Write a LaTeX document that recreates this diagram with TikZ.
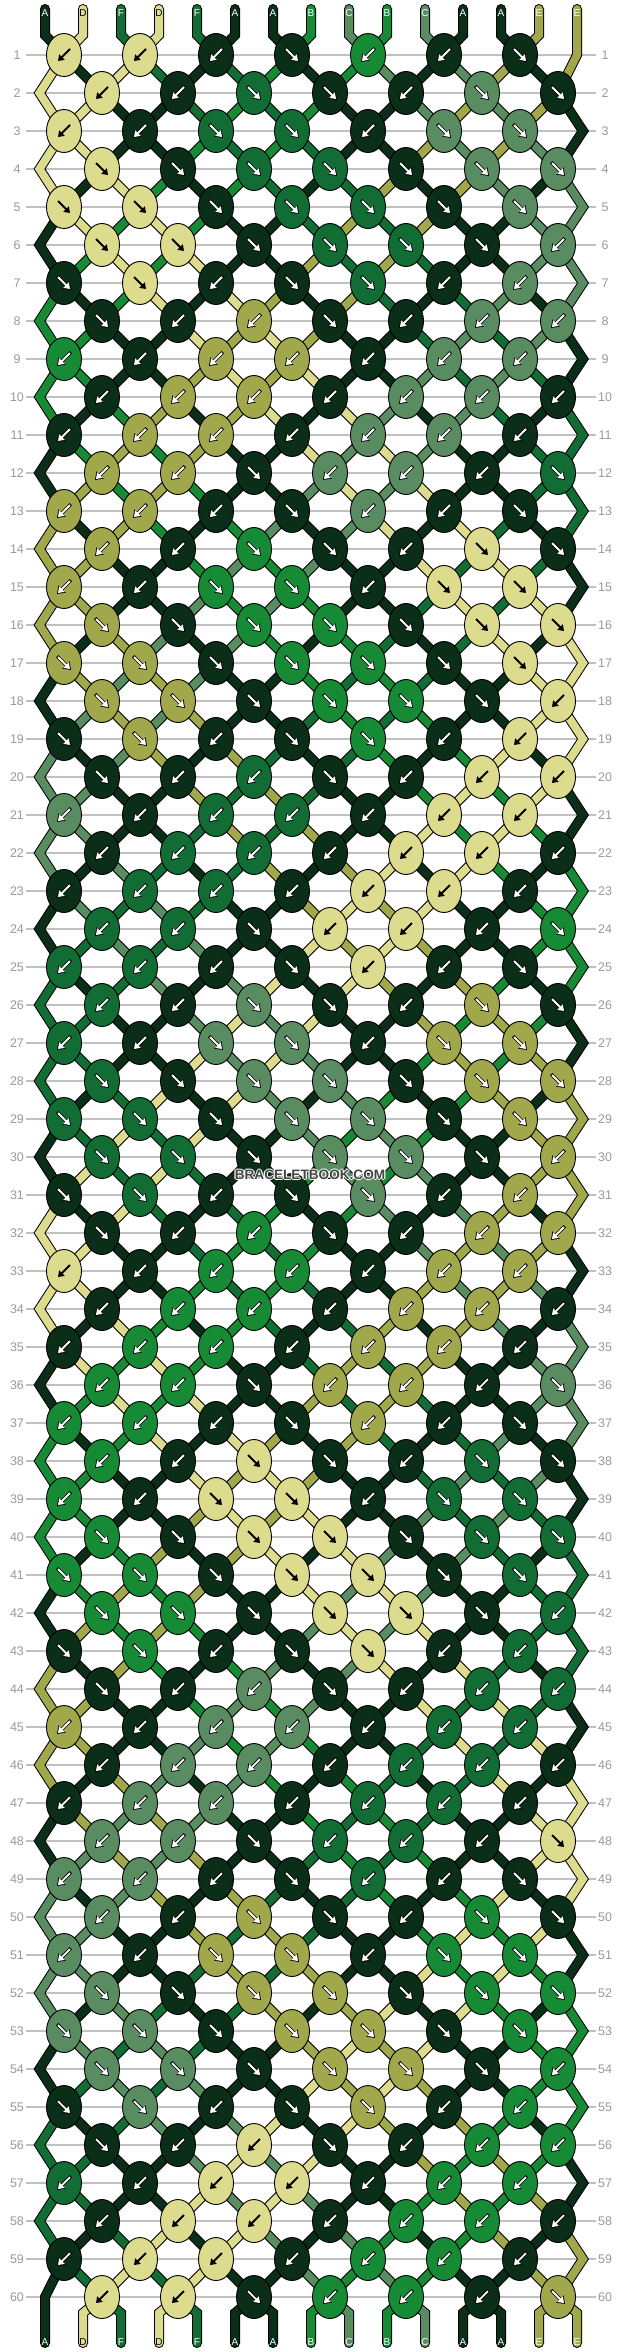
\documentclass[tikz,border=0pt]{standalone}
\usepackage{fontspec}
\setmainfont{Liberation Sans}
\usetikzlibrary{shapes.geometric,arrows.meta}
\definecolor{colA}{HTML}{0B2E19}
\definecolor{colB}{HTML}{178A35}
\definecolor{colC}{HTML}{5A8C62}
\definecolor{colD}{HTML}{DCDB8E}
\definecolor{colE}{HTML}{A0A84B}
\definecolor{colF}{HTML}{126D35}
\definecolor{gridgray}{HTML}{C0C0C0}
\definecolor{numgray}{HTML}{9A9A9A}
\definecolor{wmgray}{HTML}{444444}
\pgfdeclarelayer{gridlayer}
\pgfdeclarelayer{stringlayer}
\pgfsetlayers{gridlayer,stringlayer,main}

% knot directions, period of 12 rows (f = forward, b = backward)
\expandafter\def\csname pat1\endcsname{b,b,b,f,b,b,f}
\expandafter\def\csname pat2\endcsname{b,b,f,f,b,f,f}
\expandafter\def\csname pat3\endcsname{b,b,f,f,b,f,f}
\expandafter\def\csname pat4\endcsname{f,f,f,f,f,f,f}
\expandafter\def\csname pat5\endcsname{f,f,f,f,f,f,f}
\expandafter\def\csname pat6\endcsname{f,f,f,f,f,f,b}
\expandafter\def\csname pat7\endcsname{f,f,b,f,f,b,b}
\expandafter\def\csname pat8\endcsname{f,b,b,f,b,b,b}
\expandafter\def\csname pat9\endcsname{b,b,b,b,b,b,b}
\expandafter\def\csname pat10\endcsname{b,b,b,b,b,b,b}
\expandafter\def\csname pat11\endcsname{b,b,b,b,b,b,b}
\expandafter\def\csname pat12\endcsname{b,b,f,b,b,b,f}

\def\bbstrs{A,D,F,D,F,A,A,B,C,B,C,A,A,E,E}
\foreach \lett [count=\nn] in \bbstrs {\expandafter\xdef\csname S\nn\endcsname{\lett}}
\newcommand\bbsnap[1]{\foreach \ii in {1,...,15}{\expandafter\xdef\csname st-#1-\ii\endcsname{\csname S\ii\endcsname}}}
\foreach \rr in {1,...,60}{%
  \bbsnap{\rr}%
  \pgfmathtruncatemacro\bbpp{mod(\rr-1,12)+1}%
  \pgfmathtruncatemacro\oddr{mod(\rr,2)}%
  \edef\bbdirs{\csname pat\bbpp\endcsname}%
  \foreach \dd [count=\jj] in \bbdirs {%
    \pgfmathtruncatemacro\bpa{\oddr==1 ? 2*\jj-1 : 2*\jj}%
    \pgfmathtruncatemacro\bpb{\bpa+1}%
    \edef\cpa{\csname S\bpa\endcsname}%
    \edef\cpb{\csname S\bpb\endcsname}%
    \if f\dd
      \expandafter\xdef\csname kc-\rr-\jj\endcsname{\cpa}%
    \else
      \expandafter\xdef\csname kc-\rr-\jj\endcsname{\cpb}%
    \fi
    \expandafter\xdef\csname kd-\rr-\jj\endcsname{\dd}%
    \expandafter\xdef\csname S\bpa\endcsname{\cpb}%
    \expandafter\xdef\csname S\bpb\endcsname{\cpa}%
  }%
}
\bbsnap{61}

\newcommand\bbwm[1]{%
\makebox[0pt]{\textcolor{white}{\raisebox{1.2pt}{#1}}}%
\makebox[0pt]{\textcolor{white}{\raisebox{-1.2pt}{#1}}}%
\makebox[0pt]{\textcolor{white}{\hspace*{2.4pt}#1}}%
\makebox[0pt]{\textcolor{white}{#1\hspace*{2.4pt}}}%
\makebox[0pt]{\textcolor{wmgray}{#1}}}

\begin{document}
\begin{tikzpicture}[x=1pt,y=-1pt,
  knot/.style={ellipse, draw=black, line width=0.9pt, minimum width=35pt, minimum height=43pt, inner sep=0pt},
  str/.style={draw=black, line width=1pt, double=col#1, double distance=8pt},
  gridline/.style={draw=gridgray, line width=1.2pt},
  rownum/.style={text=numgray, font=\fontsize{12.5}{14}\selectfont, inner sep=0pt},
  lab/.style={font=\fontsize{10}{11}\selectfont, inner sep=0pt},
  arrO/.style={draw=black, line width=3.4pt, -{Triangle[length=7.2pt,width=10pt]}},
  arrW/.style={draw=white, line width=1.8pt, -{Triangle[length=5.6pt,width=7.6pt]}},
  arrB/.style={draw=black, line width=2pt, -{Triangle[length=5.6pt,width=7.6pt]}}]
\useasboundingbox (0,0) rectangle (620,2352);
\begin{pgfonlayer}{gridlayer}
\fill[white] (0,0) rectangle (620,2352);
\foreach \rr in {1,...,60}{
  \draw[gridline] (26,{55+38*(\rr-1)}) -- (596,{55+38*(\rr-1)});
}
\end{pgfonlayer}
% row numbers
\foreach \rr in {1,...,60}{
  \node[rownum] (ln-\rr) at (17,{55+38*(\rr-1)}) {\rr};
  \node[rownum] (rn-\rr) at (605,{55+38*(\rr-1)}) {\rr};
}
% knots
\foreach \rr in {1,...,60}{
  \pgfmathtruncatemacro\oddr{mod(\rr,2)}
  \pgfmathsetmacro\yy{55+38*(\rr-1)}
  \foreach \jj in {1,...,7}{
    \pgfmathsetmacro\xx{\oddr==1 ? 64+76*(\jj-1) : 102+76*(\jj-1)}
    \edef\bbkc{\csname kc-\rr-\jj\endcsname}
    \edef\bbkd{\csname kd-\rr-\jj\endcsname}
    \node[knot, fill=col\bbkc] (k-\rr-\jj) at (\xx,\yy) {};
    \if f\bbkd
      \def\ax{-6}\def\bx{6}\def\axo{-6.8}\def\bxo{7}
    \else
      \def\ax{6}\def\bx{-6}\def\axo{6.8}\def\bxo{-7}
    \fi
    \if D\bbkc
      \draw[arrB] ([shift={(\ax,-6)}]k-\rr-\jj.center) -- ([shift={(\bx,6)}]k-\rr-\jj.center);
    \else
      \draw[arrO] ([shift={(\axo,-6.8)}]k-\rr-\jj.center) -- ([shift={(\bxo,7)}]k-\rr-\jj.center);
      \draw[arrW] ([shift={(\ax,-6)}]k-\rr-\jj.center) -- ([shift={(\bx,6)}]k-\rr-\jj.center);
    \fi
  }
}
% string end points
\foreach \ii in {1,...,15}{
  \coordinate (top-\ii) at ({45+38*(\ii-1)},9);
  \coordinate (bot-\ii) at ({45+38*(\ii-1)},2343);
}
\begin{pgfonlayer}{stringlayer}
% top ends
\foreach \ii in {1,...,14}{
  \pgfmathtruncatemacro\jj{floor((\ii+1)/2)}
  \edef\bbsc{\csname st-1-\ii\endcsname}
  \draw[str=\bbsc, line cap=round] (top-\ii) -- ++(0,26) -- (k-1-\jj.center);
}
\edef\bbsc{\csname st-1-15\endcsname}
\draw[str=\bbsc, line cap=round] (top-15) -- ++(0,46) -- (k-2-7.center);
% interior segments
\foreach \rr in {2,...,60}{
  \pgfmathtruncatemacro\oddr{mod(\rr,2)}
  \pgfmathtruncatemacro\rp{\rr-1}
  \foreach \ii in {2,...,14}{
    \pgfmathtruncatemacro\jcur{\oddr==1 ? floor((\ii+1)/2) : floor(\ii/2)}
    \pgfmathtruncatemacro\jprev{\oddr==1 ? floor(\ii/2) : floor((\ii+1)/2)}
    \edef\bbsc{\csname st-\rr-\ii\endcsname}
    \draw[str=\bbsc] (k-\rp-\jprev.center) -- (k-\rr-\jcur.center);
  }
}
% left edge bends (position 1, even rows)
\foreach \rr in {2,4,...,58}{
  \pgfmathtruncatemacro\rp{\rr-1}
  \pgfmathtruncatemacro\rn{\rr+1}
  \edef\bbsc{\csname st-\rr-1\endcsname}
  \draw[str=\bbsc] (k-\rp-1.center) -- (39.5,{55+38*(\rr-1)}) -- (k-\rn-1.center);
}
\edef\bbsc{\csname st-60-1\endcsname}
\draw[str=\bbsc, line cap=round] (k-59-1.center) -- (45,2297) -- (bot-1);
% right edge bends (position 15, odd rows)
\foreach \rr in {3,5,...,59}{
  \pgfmathtruncatemacro\rp{\rr-1}
  \pgfmathtruncatemacro\rn{\rr+1}
  \edef\bbsc{\csname st-\rr-15\endcsname}
  \draw[str=\bbsc] (k-\rp-7.center) -- (583,{55+38*(\rr-1)}) -- (k-\rn-7.center);
}
% bottom ends
\foreach \ii in {2,...,15}{
  \pgfmathtruncatemacro\jj{floor(\ii/2)}
  \edef\bbsc{\csname st-61-\ii\endcsname}
  \draw[str=\bbsc, line cap=round] (k-60-\jj.center) -- ({45+38*(\ii-1)},2313) -- (bot-\ii);
}
\end{pgfonlayer}
% string labels
\foreach \ii in {1,...,15}{
  \edef\bbla{\csname st-1-\ii\endcsname}
  \edef\bblb{\csname st-61-\ii\endcsname}
  \if D\bbla \def\tca{black}\else\def\tca{white}\fi
  \if D\bblb \def\tcb{black}\else\def\tcb{white}\fi
  \node[lab, text=\tca] (tl-\ii) at ({45+38*(\ii-1)},13) {\bbla};
  \node[lab, text=\tcb] (bl-\ii) at ({45+38*(\ii-1)},2342) {\bblb};
}
% watermark
\node[font=\bfseries\fontsize{13.6}{15}\selectfont, inner sep=0pt] (wm) at (310,1175) {\bbwm{BRACELETBOOK.COM}};
\end{tikzpicture}
\end{document}
